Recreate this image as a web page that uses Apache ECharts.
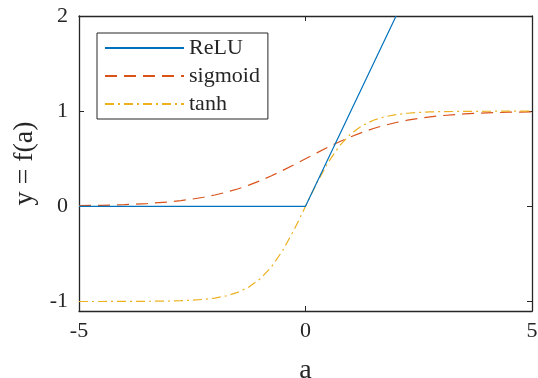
<!DOCTYPE html>
<html>
<head>
<meta charset="utf-8">
<script src="https://cdn.jsdelivr.net/npm/echarts@6/dist/echarts.min.js"></script>
<style>html,body{margin:0;padding:0;background:#fff}#c{width:538px;height:378px}</style>
</head>
<body>
<div id="c"></div>
<script>
const reluX = [-5, 0, 2];
const reluY = [0, 0, 2];
const sigX = [-5,-4.5,-4,-3.5,-3,-2.75,-2.5,-2.25,-2,-1.75,-1.5,-1.25,-1,-0.75,-0.5,-0.25,0,0.25,0.5,0.75,1,1.25,1.5,1.75,2,2.25,2.5,2.75,3,3.5,4,4.5,5];
const sigY = [0.007,0.011,0.018,0.029,0.047,0.060,0.076,0.095,0.119,0.148,0.182,0.223,0.269,0.321,0.378,0.438,0.5,0.562,0.622,0.679,0.731,0.777,0.818,0.852,0.881,0.905,0.924,0.940,0.953,0.971,0.982,0.989,0.993];
const tanhX = [-5,-4.5,-4,-3.5,-3,-2.75,-2.5,-2.25,-2,-1.75,-1.5,-1.25,-1,-0.75,-0.5,-0.25,0,0.25,0.5,0.75,1,1.25,1.5,1.75,2,2.25,2.5,2.75,3,3.5,4,4.5,5];
const tanhY = [-1.0,-1.0,-0.999,-0.998,-0.995,-0.992,-0.987,-0.978,-0.964,-0.941,-0.905,-0.848,-0.762,-0.635,-0.462,-0.245,0,0.245,0.462,0.635,0.762,0.848,0.905,0.941,0.964,0.978,0.987,0.992,0.995,0.998,0.999,1.0,1.0];
const xTicks = [-5, 0, 5];
const yTicks = [-1, 0, 1, 2];
const seriesNames = ['ReLU', 'sigmoid', 'tanh'];

const FONT = 'Liberation Serif';
const AX = '#262626';
const zip = (xs, ys) => xs.map((x, i) => [x, ys[i]]);

const chart = echarts.init(document.getElementById('c'));
chart.setOption({
  animation: false,
  grid: {left: 79, right: 6, top: 16, bottom: 67, containLabel: false, outerBoundsMode: 'none'},
  legend: {
    left: 97, top: 33, orient: 'vertical',
    data: seriesNames,
    itemWidth: 79, itemHeight: 20, itemGap: 6,
    padding: [4, 8, 4, 7],
    backgroundColor: '#fff', borderColor: AX, borderWidth: 1, borderRadius: 0,
    itemStyle: {opacity: 0},
    textStyle: {fontFamily: FONT, fontSize: 22, color: AX}
  },
  xAxis: [{
    type: 'value', min: -5, max: 5, position: 'bottom',
    name: 'a', nameLocation: 'middle', nameGap: 46,
    nameTextStyle: {fontFamily: FONT, fontSize: 28, color: AX},
    axisLine: {onZero: false, lineStyle: {color: AX, width: 1.3}},
    axisTick: {inside: true, length: 5, customValues: xTicks, lineStyle: {color: AX, width: 1}},
    axisLabel: {customValues: xTicks, fontFamily: FONT, fontSize: 22, color: AX, margin: 9},
    splitLine: {show: false}
  }, {
    type: 'value', min: -5, max: 5, position: 'top',
    axisLine: {onZero: false, lineStyle: {color: AX, width: 1.3}},
    axisTick: {inside: true, length: 5, customValues: xTicks, lineStyle: {color: AX, width: 1}},
    axisLabel: {show: false}, splitLine: {show: false}
  }],
  yAxis: [{
    type: 'value', min: -1.1, max: 2, position: 'left',
    name: 'y = f(a)', nameLocation: 'middle', nameGap: 36, nameRotate: 90,
    nameTextStyle: {fontFamily: FONT, fontSize: 28, color: AX},
    axisLine: {onZero: false, lineStyle: {color: AX, width: 1.3}},
    axisTick: {inside: true, length: 5, customValues: yTicks, lineStyle: {color: AX, width: 1}},
    axisLabel: {customValues: yTicks, fontFamily: FONT, fontSize: 22, color: AX, margin: 11},
    splitLine: {show: false}
  }, {
    type: 'value', min: -1.1, max: 2, position: 'right',
    axisLine: {onZero: false, lineStyle: {color: AX, width: 1.3}},
    axisTick: {inside: true, length: 5, customValues: yTicks, lineStyle: {color: AX, width: 1}},
    axisLabel: {show: false}, splitLine: {show: false}
  }],
  series: [{
    name: seriesNames[0], type: 'line', data: zip(reluX, reluY), symbol: 'none',
    lineStyle: {color: '#0072BD', width: 1.2, type: 'solid'}, itemStyle: {color: '#0072BD'}, z: 3
  }, {
    name: seriesNames[1], type: 'line', data: zip(sigX, sigY), symbol: 'none',
    lineStyle: {color: '#D95319', width: 1.2, type: [12, 7]}, itemStyle: {color: '#D95319'}, z: 2
  }, {
    name: seriesNames[2], type: 'line', data: zip(tanhX, tanhY), symbol: 'none',
    lineStyle: {color: '#EDB120', width: 1.2, type: [9, 4, 2, 4]}, itemStyle: {color: '#EDB120'}, z: 2
  }]
});
</script>
</body>
</html>
